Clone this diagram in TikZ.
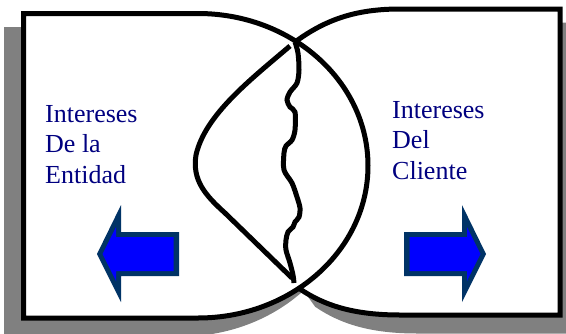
\documentclass[tikz,border=0pt]{standalone}
\usepackage{fontspec}
\setmainfont{Liberation Serif}
\newfontfamily\navyserif{Liberation Serif}
\definecolor{shadowgray}{HTML}{808080}
\definecolor{txtnavy}{HTML}{000080}
\definecolor{arrowline}{HTML}{003366}
\definecolor{arrowfill}{HTML}{0000FF}
\newcommand{\leftshapepath}{(23.5,13.5) -- (198,13.5) arc[start angle=-90, end angle=90, x radius=170, y radius=152.25] -- (23.5,318) -- cycle}
\newcommand{\rightshapepath}{(290,46) .. controls (250,80) and (205,115) .. (196,155) .. controls (192,180) and (205,195) .. (225,213) -- (292,278) -- (300,289) .. controls (325,306) and (355,315) .. (400,315) -- (560,315) -- (560,9) -- (400,9) .. controls (355,9) and (325,20) .. (295,42) -- cycle}
\tikzset{
  outline/.style={draw=black, line width=5pt},
  shadowshape/.style={fill=shadowgray, draw=shadowgray, line width=5pt},
  txt/.style={text=txtnavy, font=\navyserif\fontsize{26}{30.5}\selectfont, inner sep=0pt, anchor=base west},
  arrowout/.style={fill=arrowline},
  arrowin/.style={fill=arrowfill}
}
\begin{document}
\begin{tikzpicture}[x=1pt,y=-1pt]
\useasboundingbox (0,0) rectangle (566,333);
\clip (0,0) rectangle (566,333);
% shadows
\begin{scope}[shift={(-17,16)}]
  \path[shadowshape] \leftshapepath;
\end{scope}
\begin{scope}[shift={(17,16)}]
  \path[shadowshape] \rightshapepath;
\end{scope}
% white fills
\fill[white] \leftshapepath;
\fill[white] \rightshapepath;
% outlines
\draw[outline] \leftshapepath;
\draw[outline] (295,42) .. controls (325,20) and (355,9) .. (400,9) -- (560,9) -- (560,315) -- (400,315) .. controls (355,315) and (325,306) .. (300,289);
\draw[outline] (290,46) .. controls (250,80) and (205,115) .. (196,155) .. controls (192,180) and (205,195) .. (225,213) -- (292,278);
% torn line
\draw[outline] plot[smooth, tension=0.5] coordinates {(295,42) (298,53) (299,70) (297,83) (290,92) (287,100) (290,107) (295,112) (295,130) (292,140) (286,146) (284,153) (284,170) (292,183) (297,197) (300,208) (299,217) (295,222) (293,227) (288,232) (286,240) (286,250) (290,263) (293,275) (294,283)};
% texts
\node[txt] (lt1) at (45,122) {Intereses};
\node[txt] (lt2) at (45,152.5) {De la};
\node[txt] (lt3) at (45,183) {Entidad};
\node[txt] (rt1) at (392,118) {Intereses};
\node[txt] (rt2) at (392,148.5) {Del};
\node[txt] (rt3) at (392,179) {Cliente};
% left arrow
\fill[arrowout] (97,254) -- (121,205) -- (121,232) -- (179,232) -- (179,276) -- (121,276) -- (121,302) -- cycle;
\fill[arrowin] (102.6,254) -- (116,227) -- (116,237) -- (173.5,237) -- (173.5,271) -- (116,271) -- (116,281) -- cycle;
% right arrow
\fill[arrowout] (486,254) -- (462,205) -- (462,232) -- (404,232) -- (404,276) -- (462,276) -- (462,302) -- cycle;
\fill[arrowin] (480.4,254) -- (467,227) -- (467,237) -- (409.5,237) -- (409.5,271) -- (467,271) -- (467,281) -- cycle;
\end{tikzpicture}
\end{document}
